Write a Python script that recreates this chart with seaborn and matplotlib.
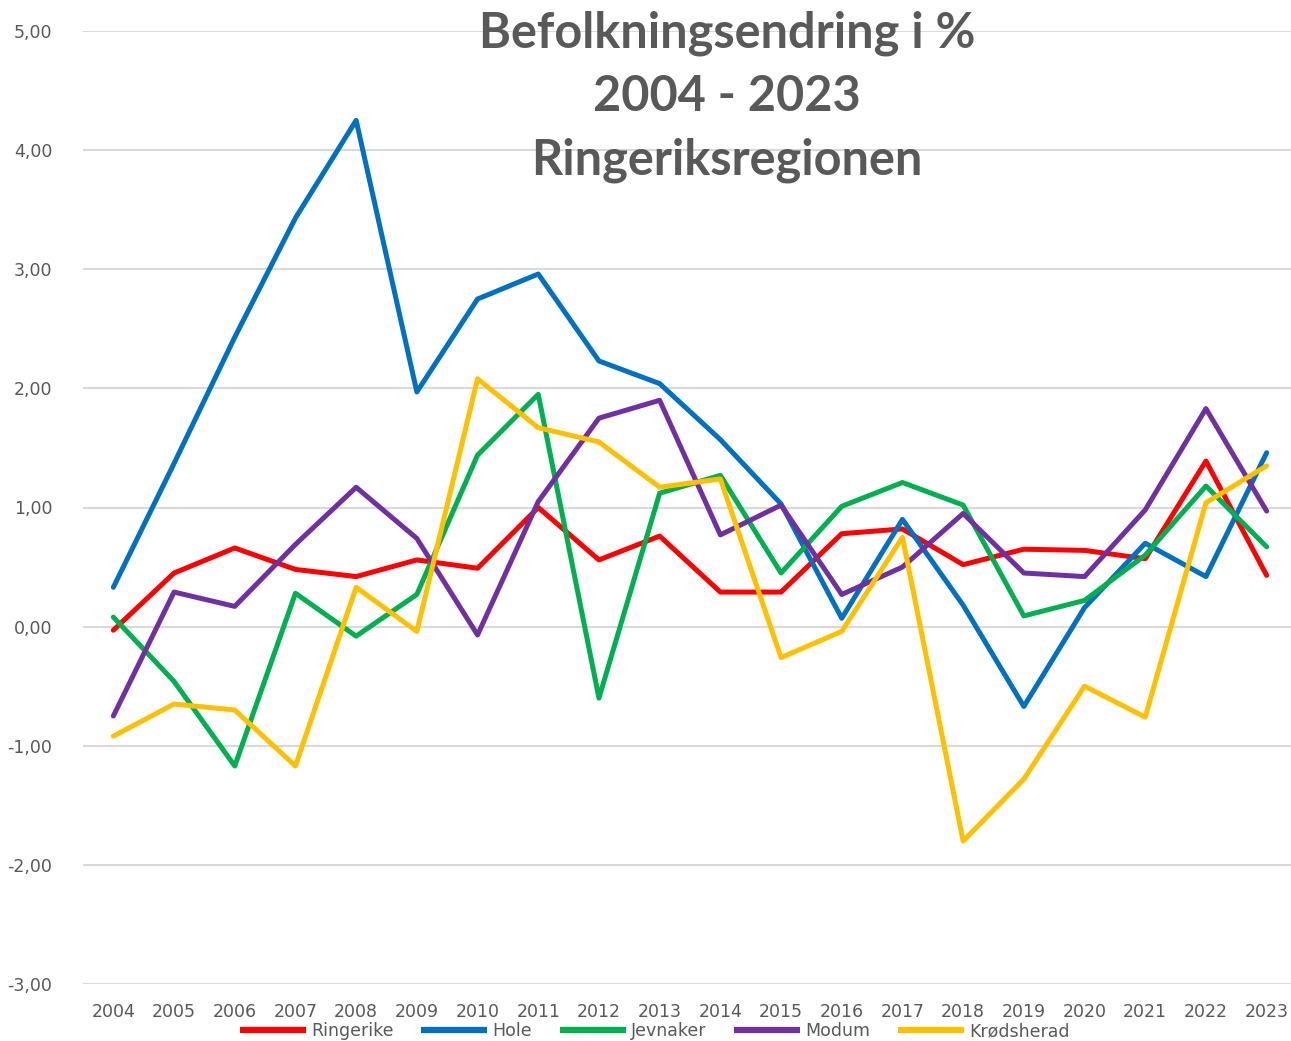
import matplotlib.pyplot as plt
import seaborn as sns
import pandas as pd
import numpy as np

years = list(range(2004, 2024))

ringerike = [-0.03, 0.45, 0.66, 0.48, 0.42, 0.56, 0.49, 1.00, 0.56, 0.76,
             0.29, 0.29, 0.78, 0.82, 0.52, 0.65, 0.64, 0.57, 1.39, 0.43]
hole = [0.33, 1.37, 2.43, 3.43, 4.25, 1.97, 2.75, 2.96, 2.23, 2.04,
        1.57, 1.03, 0.07, 0.90, 0.18, -0.67, 0.16, 0.70, 0.42, 1.46]
jevnaker = [0.08, -0.46, -1.17, 0.28, -0.08, 0.27, 1.44, 1.95, -0.60, 1.12,
            1.27, 0.45, 1.01, 1.21, 1.02, 0.09, 0.22, 0.60, 1.18, 0.67]
modum = [-0.75, 0.29, 0.17, 0.69, 1.17, 0.74, -0.07, 1.05, 1.75, 1.90,
         0.77, 1.02, 0.27, 0.50, 0.95, 0.45, 0.42, 0.98, 1.83, 0.97]
krodsherad = [-0.92, -0.65, -0.70, -1.17, 0.33, -0.04, 2.08, 1.67, 1.55, 1.17,
              1.24, -0.26, -0.04, 0.75, -1.80, -1.28, -0.50, -0.76, 1.04, 1.35]

kommuner = ["Ringerike", "Hole", "Jevnaker", "Modum", "Krødsherad"]
farger = ["#FF0000", "#0070C0", "#00B050", "#7030A0", "#FFC000"]
tittel = ["Befolkningsendring i %", "2004 - 2023", "Ringeriksregionen"]

serier = [ringerike, hole, jevnaker, modum, krodsherad]
df = pd.concat(
    [pd.DataFrame({"år": years, "endring": v, "kommune": k}) for k, v in zip(kommuner, serier)],
    ignore_index=True,
)

sns.set_style("white")
plt.rcParams['font.family'] = ['DejaVu Sans']

fig = plt.figure(figsize=(12.91, 10.41), dpi=100)
ax = fig.add_axes([83 / 1291, 57 / 1041, 1214 / 1291, 953 / 1041])

sns.lineplot(data=df, x="år", y="endring", hue="kommune", palette=farger,
             hue_order=kommuner, linewidth=3.6, ax=ax, legend=True)

ax.set_xlim(2003.5, 2023.5)
ax.set_ylim(-3, 5)
ax.set_yticks(np.arange(-3, 6, 1))
ax.set_yticklabels([f"{v:.2f}".replace(".", ",") for v in np.arange(-3, 6, 1)])
ax.set_xticks(years)
ax.set_xticklabels([str(y) for y in years])
ax.tick_params(axis='both', colors="#595959", labelsize=12.5, length=0)
ax.tick_params(axis='y', pad=22)
ax.tick_params(axis='x', pad=14)
ax.grid(axis='y', color="#d9d9d9", linewidth=1.5)
ax.set_axisbelow(True)
for s in ax.spines.values():
    s.set_visible(False)
ax.set_xlabel("")
ax.set_ylabel("")

# tittel i tre linjer
for i, t in enumerate(tittel):
    fig.text(727 / 1291, 1 - (33 + i * 63.5) / 1041, t, ha="center", va="center",
             fontsize=35, fontweight="bold", color="#595959", family="Lato")

handles, labels = ax.get_legend_handles_labels()
ax.legend(handles, labels, loc="center", bbox_to_anchor=(655 / 1291, 10 / 1041),
          bbox_transform=fig.transFigure, ncol=5, frameon=False, fontsize=12.5,
          handlelength=3.8, handletextpad=0.3, columnspacing=1.6,
          labelcolor="#595959")
for line in ax.get_legend().get_lines():
    line.set_linewidth(4.5)
    line.set_solid_capstyle("butt")

fig.savefig("out.png", dpi=100)
